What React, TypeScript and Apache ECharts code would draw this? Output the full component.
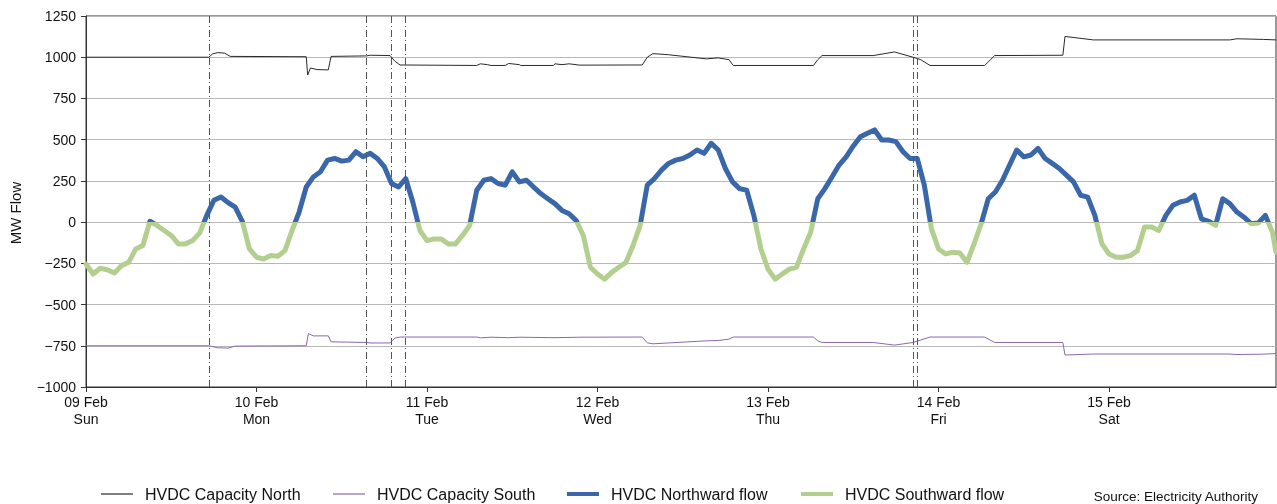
import React, { useEffect, useRef } from "react";
import * as echarts from "echarts";

const FONT = "'Liberation Sans', Arial, Helvetica, sans-serif";

const dayLabels = ["09 Feb", "10 Feb", "11 Feb", "12 Feb", "13 Feb", "14 Feb", "15 Feb"];
const weekdayLabels = ["Sun", "Mon", "Tue", "Wed", "Thu", "Fri", "Sat"];
const dayTickHours = [0, 24, 48, 72, 96, 120, 144];

// Hours since 09 Feb 00:00
const X_MAX_HOURS = 167.5;

// HVDC flow, hourly (MW, positive = northward)
const flowValues = [
  -255, -315, -280, -289, -309, -264, -244, -163, -142, 5,
  -20, -51, -81, -132, -132, -112, -65, 41, 132, 152,
  118, 91, 5, -163, -213, -224, -203, -207, -173, -51,
  61, 213, 274, 305, 376, 386, 370, 376, 427, 396,
  417, 386, 335, 234, 213, 264, 122, -51, -112, -102,
  -102, -132, -132, -81, -20, 193, 254, 264, 234, 224,
  305, 244, 254, 213, 173, 142, 112, 71, 51, 10,
  -81, -274, -315, -346, -305, -274, -244, -142, -20, 224,
  264, 315, 356, 376, 386, 407, 437, 417, 478, 437,
  325, 244, 203, 193, 41, -163, -285, -346, -315, -285,
  -274, -163, -61, 142, 203, 274, 346, 396, 462, 518,
  539, 559, 498, 498, 488, 427, 386, 386, 224, -41,
  -163, -193, -183, -187, -244, -132, -10, 142, 183, 254,
  346, 437, 396, 407, 447, 386, 356, 325, 285, 244,
  163, 152, 41, -132, -193, -213, -213, -203, -173, -30,
  -30, -51, 41, 102, 122, 132, 163, 20, 5, -20,
  142, 112, 61, 30, -10, -5, 41, -61, -183,
];
const flowHours = flowValues.map((_, i) => (i < 168 ? i : X_MAX_HOURS));

// HVDC Capacity North (hour, MW)
const capNorthHours = [
  0, 17.3, 17.8, 18.5, 19.5, 20.3, 31, 31.2, 31.6, 32.5, 34.1, 34.5, 39.5, 40, 42.8, 43.5, 44.2,
  55, 55.5, 56.5, 57, 59, 59.5, 61, 61.2, 65.8, 66, 67, 68, 69.5, 78.3, 79, 79.8, 82, 87.3, 89,
  90.5, 91.1, 102.4, 103, 103.6, 110.8, 113.8, 116.4, 117.5, 118.8, 126.5, 127.9, 137.5, 137.8,
  141.8, 161, 162, 165.7, 167.5,
];
const capNorthValues = [
  1000, 1000, 1020, 1028, 1025, 1005, 1003, 892, 935, 925, 923, 1005, 1008, 1012, 1010, 975, 953,
  950, 960, 955, 950, 950, 962, 955, 950, 950, 960, 955, 960, 952, 953, 1000, 1022, 1015, 990, 996,
  985, 950, 950, 985, 1010, 1010, 1032, 1000, 985, 950, 950, 1010, 1012, 1126,
  1105, 1105, 1112, 1108, 1105,
];

// HVDC Capacity South (hour, MW)
const capSouthHours = [
  0, 17.3, 18.5, 20, 21, 31, 31.3, 32, 34.1, 34.5, 39.5, 40, 42.8, 43.5, 44.2,
  55, 55.5, 57, 59.5, 61, 66, 69.5, 78.3, 79, 79.8, 87.3, 89, 90.5, 91.1, 102.4, 103, 103.6,
  110.8, 113.8, 116.4, 117.5, 118.8, 126.5, 127.9, 137.5, 137.8, 141.8, 161, 162, 165.7, 167.5,
];
const capSouthValues = [
  -750, -750, -762, -764, -752, -750, -676, -690, -690, -726, -730, -733, -733, -703, -697,
  -697, -702, -698, -701, -698, -701, -698, -697, -732, -738, -720, -718, -710, -697, -697, -720, -730,
  -730, -746, -730, -715, -697, -697, -730, -730, -806, -800, -800, -803, -801, -797,
];

// Event markers (hours)
const eventHours = [17.35, 39.5, 43.0, 45.0, 116.4, 117.0];

const NORTH_COLOR = "#3a66aa";
const SOUTH_COLOR = "#b3cf8f";
const CAPN_COLOR = "#2a2a2a";
const CAPS_COLOR = "#8b68ad";

const legendNames = ["HVDC Capacity North", "HVDC Capacity South", "HVDC Northward flow", "HVDC Southward flow"];
const legendLefts = [96, 328, 562, 796];
const legendIconHeights = [1.2, 1.2, 4, 4];

export default function App() {
  const ref = useRef<HTMLDivElement>(null);

  useEffect(() => {
    const chart = echarts.init(ref.current!, null, { renderer: "svg" });

    const pairs = (xs: number[], ys: (number | null)[]) => xs.map((x, i) => [x, ys[i]]);

    const option: any = {
      animation: false,
      textStyle: { fontFamily: FONT },
      grid: {
        left: 86,
        right: 1,
        top: 16,
        bottom: 117,
        show: true,
        borderColor: "#333",
        borderWidth: 1,
        backgroundColor: "transparent",
      },
      legend: legendNames.map((name, i) => ({
        left: legendLefts[i],
        top: 481,
        data: [{ name, icon: "rect" }],
        itemWidth: 32,
        itemHeight: legendIconHeights[i],
        textStyle: { fontFamily: FONT, fontSize: 16, color: "#111", padding: [0, 0, 0, 7] },
        selectedMode: false,
      })),
      visualMap: {
        show: false,
        type: "piecewise",
        seriesIndex: 0,
        dimension: 1,
        pieces: [
          { min: -1500, max: 0, color: SOUTH_COLOR },
          { gt: 0, lte: 1500, color: NORTH_COLOR },
        ],
        outOfRange: { color: SOUTH_COLOR },
      },
      xAxis: {
        type: "value",
        min: 0,
        max: X_MAX_HOURS,
        interval: 24,
        axisLine: { show: true, onZero: false, lineStyle: { color: "#333", width: 1 } },
        axisTick: { show: true, length: 5, lineStyle: { color: "#333" }, customValues: dayTickHours },
        splitLine: { show: false },
        axisLabel: {
          customValues: dayTickHours,
          color: "#111",
          fontSize: 14,
          lineHeight: 17,
          margin: 6,
          fontFamily: FONT,
          formatter: (v: number) => {
            const i = dayTickHours.indexOf(v);
            return i >= 0 ? dayLabels[i] + "\n" + weekdayLabels[i] : "";
          },
        },
      },
      yAxis: {
        type: "value",
        min: -1000,
        max: 1250,
        interval: 250,
        axisLine: { show: true, lineStyle: { color: "#333", width: 1 } },
        axisTick: { show: true, length: 5, lineStyle: { color: "#333" } },
        splitLine: { show: true, lineStyle: { color: "#b8b8b8", width: 1 } },
        axisLabel: {
          color: "#111",
          fontSize: 14,
          margin: 10,
          fontFamily: FONT,
          formatter: (v: number) => String(v).replace("-", "\u2212"),
        },
      },
      graphic: [
        {
          type: "text",
          x: 15,
          y: 213,
          rotation: Math.PI / 2,
          style: {
            text: "MW Flow",
            fontSize: 15,
            fontFamily: FONT,
            fill: "#111",
            textAlign: "center",
            textVerticalAlign: "middle",
          },
        },
        {
          type: "text",
          x: 1258,
          y: 496,
          style: {
            text: "Source: Electricity Authority",
            fontSize: 13.5,
            fontFamily: FONT,
            fill: "#111",
            textAlign: "right",
            textVerticalAlign: "middle",
          },
        },
      ],
      series: [
        {
          name: "HVDC flow",
          type: "line",
          data: pairs(flowHours, flowValues),
          symbol: "none",
          lineStyle: { width: 5, cap: "round", join: "round" },
          z: 2,
        },
        {
          name: "HVDC Capacity North",
          type: "line",
          data: pairs(capNorthHours, capNorthValues),
          symbol: "none",
          color: CAPN_COLOR,
          lineStyle: { color: CAPN_COLOR, width: 1 },
          z: 3,
          markLine: {
            silent: true,
            symbol: ["none", "none"],
            label: { show: false },
            lineStyle: { color: "#555", width: 1, type: [7, 3, 1, 3] },
            data: eventHours.map((h) => ({ xAxis: h })),
          },
        },
        {
          name: "HVDC Capacity South",
          type: "line",
          data: pairs(capSouthHours, capSouthValues),
          symbol: "none",
          color: CAPS_COLOR,
          lineStyle: { color: CAPS_COLOR, width: 1 },
          z: 3,
        },
        {
          name: "HVDC Northward flow",
          type: "line",
          data: [],
          symbol: "none",
          color: NORTH_COLOR,
          lineStyle: { color: NORTH_COLOR, width: 4 },
        },
        {
          name: "HVDC Southward flow",
          type: "line",
          data: [],
          symbol: "none",
          color: SOUTH_COLOR,
          lineStyle: { color: SOUTH_COLOR, width: 4 },
        },
      ],
    };

    chart.setOption(option);
    return () => chart.dispose();
  }, []);

  return (
    <div
      ref={ref}
      style={{ position: "fixed", left: 0, top: 0, width: 1277, height: 504 }}
    />
  );
}
